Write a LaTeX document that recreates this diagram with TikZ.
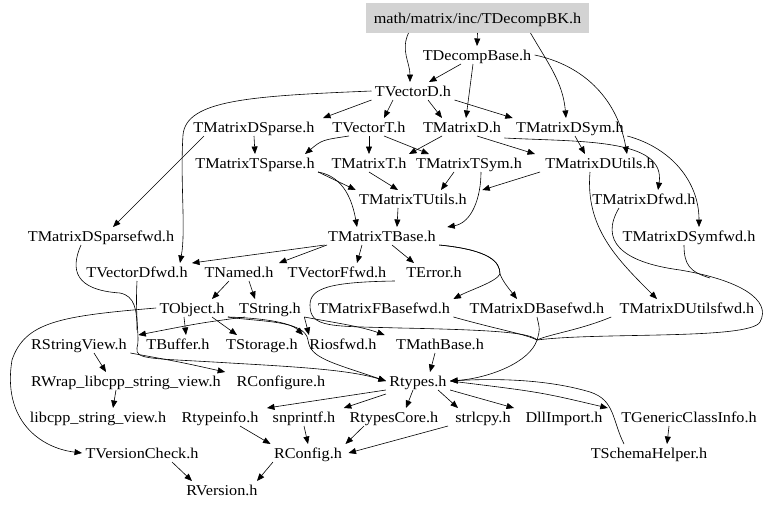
\documentclass[tikz,border=0pt]{standalone}
\usepackage{fontspec}
\setmainfont{Liberation Serif}[FakeStretch=1.08]
\usetikzlibrary{arrows.meta}
\definecolor{rootgray}{HTML}{D3D3D3}
\begin{document}
\begin{tikzpicture}[x=1pt,y=-1pt,
  n/.style={inner sep=2pt, outer sep=1.5pt, text height=10.5pt, text depth=0.5pt, font=\fontsize{15}{18}\selectfont},
  e/.style={-{Triangle[length=7.5pt,width=6pt]}, line width=0.6pt, black},
  ln/.style={line width=0.6pt, black}]
\fill[white] (0,0) rectangle (768,509);
\useasboundingbox (0,0) rectangle (768,509);
% nodes
\node[n, fill=rootgray, minimum width=223pt, minimum height=30pt, outer sep=0pt] (root) at (477.5,18) {math/matrix/inc/TDecompBK.h};
\node[n] (dbase) at (477,55) {TDecompBase.h};
\node[n] (vd) at (413,91) {TVectorD.h};
\node[n] (mdsp) at (254,127) {TMatrixDSparse.h};
\node[n] (vt) at (369,127) {TVectorT.h};
\node[n] (md) at (462,127) {TMatrixD.h};
\node[n] (mdsym) at (570,127) {TMatrixDSym.h};
\node[n] (mtsp) at (255,163) {TMatrixTSparse.h};
\node[n] (mt) at (369,163) {TMatrixT.h};
\node[n] (mtsym) at (469,163) {TMatrixTSym.h};
\node[n] (mdu) at (600,163) {TMatrixDUtils.h};
\node[n] (mtu) at (413,199) {TMatrixTUtils.h};
\node[n] (mdfwd) at (644,199) {TMatrixDfwd.h};
\node[n] (mdspfwd) at (101,236) {TMatrixDSparsefwd.h};
\node[n] (mtb) at (382,236) {TMatrixTBase.h};
\node[n] (mdsymfwd) at (689,236) {TMatrixDSymfwd.h};
\node[n] (vdfwd) at (137,272) {TVectorDfwd.h};
\node[n] (named) at (239,272) {TNamed.h};
\node[n] (vffwd) at (337,272) {TVectorFfwd.h};
\node[n] (err) at (434,272) {TError.h};
\node[n] (obj) at (192,308) {TObject.h};
\node[n] (str) at (270,308) {TString.h};
\node[n] (mfbfwd) at (384,308) {TMatrixFBasefwd.h};
\node[n] (mdbfwd) at (537,308) {TMatrixDBasefwd.h};
\node[n] (mdufwd) at (687,308) {TMatrixDUtilsfwd.h};
\node[n] (rsv) at (79,344) {RStringView.h};
\node[n] (buf) at (178,344) {TBuffer.h};
\node[n] (stor) at (262,344) {TStorage.h};
\node[n] (rios) at (343,344) {Riosfwd.h};
\node[n] (mbase) at (440,344) {TMathBase.h};
\node[n] (rwrap) at (126,381) {RWrap\_libcpp\_string\_view.h};
\node[n] (rconf) at (281,381) {RConfigure.h};
\node[n] (rtypes) at (418,381) {Rtypes.h};
\node[n] (libcpp) at (98,417) {libcpp\_string\_view.h};
\node[n] (rtinfo) at (220,417) {Rtypeinfo.h};
\node[n] (snpr) at (304,417) {snprintf.h};
\node[n] (rtcore) at (394,417) {RtypesCore.h};
\node[n] (strl) at (483,417) {strlcpy.h};
\node[n] (dll) at (564,417) {DllImport.h};
\node[n] (tgci) at (689,417) {TGenericClassInfo.h};
\node[n] (tvc) at (142,453) {TVersionCheck.h};
\node[n] (rconfig) at (308,453) {RConfig.h};
\node[n] (tsh) at (649,453) {TSchemaHelper.h};
\node[n] (rver) at (222,490) {RVersion.h};
\coordinate (hub) at (537,340);
% edges
\draw[e] ([xshift=-69pt]root.south) to[out=-115,in=90] ([xshift=-3pt]vd.north);
\draw[e] (root.south) -- (dbase.north);
\draw[e] ([xshift=53pt]root.south) to[out=-60,in=95] ([xshift=-4pt]mdsym.north);
\draw[e] (dbase) -- (vd);
\draw[e] ([xshift=-4pt]dbase.south) -- ([xshift=4pt]md.north);
\draw[e] (dbase.east) to[out=-12,in=100] ([xshift=27pt]mdu.north);
\draw[e] (vd.south west) -- ([xshift=5pt]mdsp.north east);
\draw[e] ([xshift=-20pt]vd.south) -- ([xshift=15pt]vt.north);
\draw[e] ([xshift=15pt]vd.south) -- ([xshift=-20pt]md.north);
\draw[e] (vd.south east) -- (mdsym.north west);
\draw[e] (vd.west) .. controls (250,96) and (186,100) .. (183,135) .. controls (180,180) and (186,230) .. ([xshift=43pt]vdfwd.north);
\draw[e] (mdsp.south) -- (mtsp.north);
\draw[e] ([xshift=-50pt]mdsp.south) -- ([xshift=12pt]mdspfwd.north);
\draw[e] ([xshift=-20pt]vt.south) .. controls (322,140) .. ([xshift=50pt]mtsp.north);
\draw[e] (vt.south) -- (mt.north);
\draw[e] ([xshift=15pt]vt.south) -- ([xshift=-40pt]mtsym.north);
\draw[e] ([xshift=-20pt]md.south) -- ([xshift=40pt]mt.north);
\draw[e] ([xshift=15pt]md.south) -- ([xshift=-65pt]mdu.north);
\draw[e] ([xshift=5pt]mdsym.south) -- ([xshift=-15pt]mdu.north);
\draw[e] ([yshift=-2pt]md.south east) .. controls (580,142) and (666,138) .. ([xshift=14pt]mdfwd.north);
\draw[e] (mdsym.south east) to[out=-15,in=90] ([xshift=10pt]mdsymfwd.north);
\draw[e] ([xshift=-60pt]mdu.south) -- ([xshift=12pt]mtu.north east);
\draw[e] ([xshift=-10pt]mdu.south) to[out=-95,in=135] ([xshift=-30pt]mdufwd.north);
\draw[e] (mtsp.south east) -- (mtu.north west);
\draw[e] (mtsp.south east) to[out=-10,in=100] ([xshift=-25pt]mtb.north);
\draw[e] (mt.south) -- ([xshift=-15pt]mtu.north);
\draw[e] ([xshift=-15pt]mtsym.south) -- ([xshift=28pt]mtu.north);
\draw[e] ([xshift=12pt]mtsym.south) to[out=-90,in=10] ([xshift=8pt]mtb.north east);
\draw[e] ([xshift=-15pt]mtu.south) -- ([xshift=15pt]mtb.north);
\draw[e] (mtb.south west) -- ([xshift=55pt]vdfwd.north);
\draw[e] ([xshift=-55pt]mtb.south) -- ([xshift=40pt]named.north);
\draw[e] ([xshift=-20pt]mtb.south) -- ([xshift=20pt]vffwd.north);
\draw[e] ([xshift=10pt]mtb.south) -- ([xshift=-20pt]err.north);
\draw[e] (mtb.south east) .. controls (490,250) and (500,262) .. (500,274) .. controls (496,282) and (470,290) .. (mfbfwd.north east);
\draw[e] (mtb.south east) .. controls (490,250) and (500,262) .. (500,274) .. controls (503,282) and (510,290) .. ([xshift=-20pt]mdbfwd.north);
\draw[e] ([xshift=-10pt]named.south) -- ([xshift=20pt]obj.north);
\draw[e] ([xshift=10pt]named.south) -- ([xshift=-15pt]str.north);
\draw[e] (obj.west) .. controls (60,316) and (25,322) .. (12,360) .. controls (2,420) and (40,448) .. (tvc.west);
\draw[e] ([xshift=-8pt]obj.south) -- ([xshift=8pt]buf.north);
\draw[e] ([xshift=-25pt]str.south) .. controls (200,323) .. ([xshift=8pt]rsv.north east);
\draw[e] ([xshift=20pt]obj.south) -- ([xshift=-25pt]stor.north);
\draw[e] (obj.south east) .. controls (260,318) and (290,322) .. ([xshift=-3pt]rios.north west);
\draw[e] (str.south east) -- ([xshift=3pt]rios.north west);
\draw[e] (str.south east) .. controls (330,322) and (360,326) .. ([xshift=-8pt]mbase.north west);
% into Rtypes
\draw[e] ([xshift=-8pt]err.south west) .. controls (330,282) and (310,288) .. (310,305) .. controls (310,328) and (330,326) .. (400,328) .. controls (500,330) and (530,333) .. (hub) .. controls (530,362) and (490,378) .. (rtypes.east);
\draw[ln] (mfbfwd.south east) .. controls (500,330) and (525,334) .. (hub);
\draw[ln] (mdbfwd.south) .. controls (540,330) .. (hub);
\draw[ln] ([xshift=-5pt]mdufwd.south west) .. controls (580,330) and (550,334) .. (hub);
\draw[ln] ([xshift=-25pt]mdfwd.south) .. controls (600,240) and (620,262) .. (680,270) .. controls (740,280) and (772,300) .. (760,322) .. controls (750,340) and (600,332) .. (hub);
\draw[ln] ([xshift=-5pt]mdsymfwd.south) .. controls (684,265) and (690,272) .. (710,278);
\draw[e] (vdfwd.south) .. controls (135,320) and (140,338) .. (137,348) .. controls (135,360) and (150,358) .. (230,363) .. controls (300,367) and (350,370) .. (rtypes.west);
\draw[ln] ([xshift=-20pt]mdspfwd.south) .. controls (70,270) and (75,290) .. (120,293) .. controls (135,296) and (137,310) .. (137,330);
\draw[e] (obj.south east) .. controls (260,322) and (305,320) .. (308,340) .. controls (310,358) and (330,362) .. (rtypes.west);
% lower part
\draw[e] ([xshift=15pt]rsv.south) -- ([xshift=-20pt]rwrap.north);
\draw[e] (rsv.south east) .. controls (180,362) .. ([xshift=-8pt]rconf.north west);
\draw[e] ([xshift=-10pt]rwrap.south) -- ([xshift=15pt]libcpp.north);
\draw[e] ([xshift=-5pt]mbase.south) -- ([xshift=12pt]rtypes.north);
\draw[e] (rtypes.south west) -- ([xshift=5pt]rtinfo.north east);
\draw[e] ([yshift=-4pt]rtypes.south west) -- ([xshift=5pt]snpr.north east);
\draw[e] ([xshift=-5pt]rtypes.south) -- ([xshift=12pt]rtcore.north);
\draw[e] ([xshift=-12pt]rtypes.south east) -- ([xshift=-25pt]strl.north);
\draw[e] (rtypes.south east) -- ([xshift=-8pt]dll.north west);
\draw[e] (rtypes.east) .. controls (540,392) .. ([xshift=-10pt]tgci.north west);
\draw[e] ([xshift=-25pt]tsh.north) .. controls (612,420) and (615,400) .. (590,392) .. controls (550,380) and (500,378) .. (rtypes.east);
\draw[e] ([xshift=-20pt]tgci.south) -- ([xshift=18pt]tsh.north);
\draw[e] ([xshift=20pt]rtinfo.south) -- (rconfig.north west);
\draw[e] (snpr.south) -- (rconfig.north);
\draw[e] ([xshift=-30pt]rtcore.south) -- (rconfig.north east);
\draw[e] ([xshift=-35pt]strl.south) -- ([xshift=3pt]rconfig.east);
\draw[e] ([xshift=30pt]tvc.south) -- ([xshift=-30pt]rver.north);
\draw[e] ([xshift=-35pt]rconfig.south) -- ([xshift=35pt]rver.north);
\end{tikzpicture}
\end{document}
